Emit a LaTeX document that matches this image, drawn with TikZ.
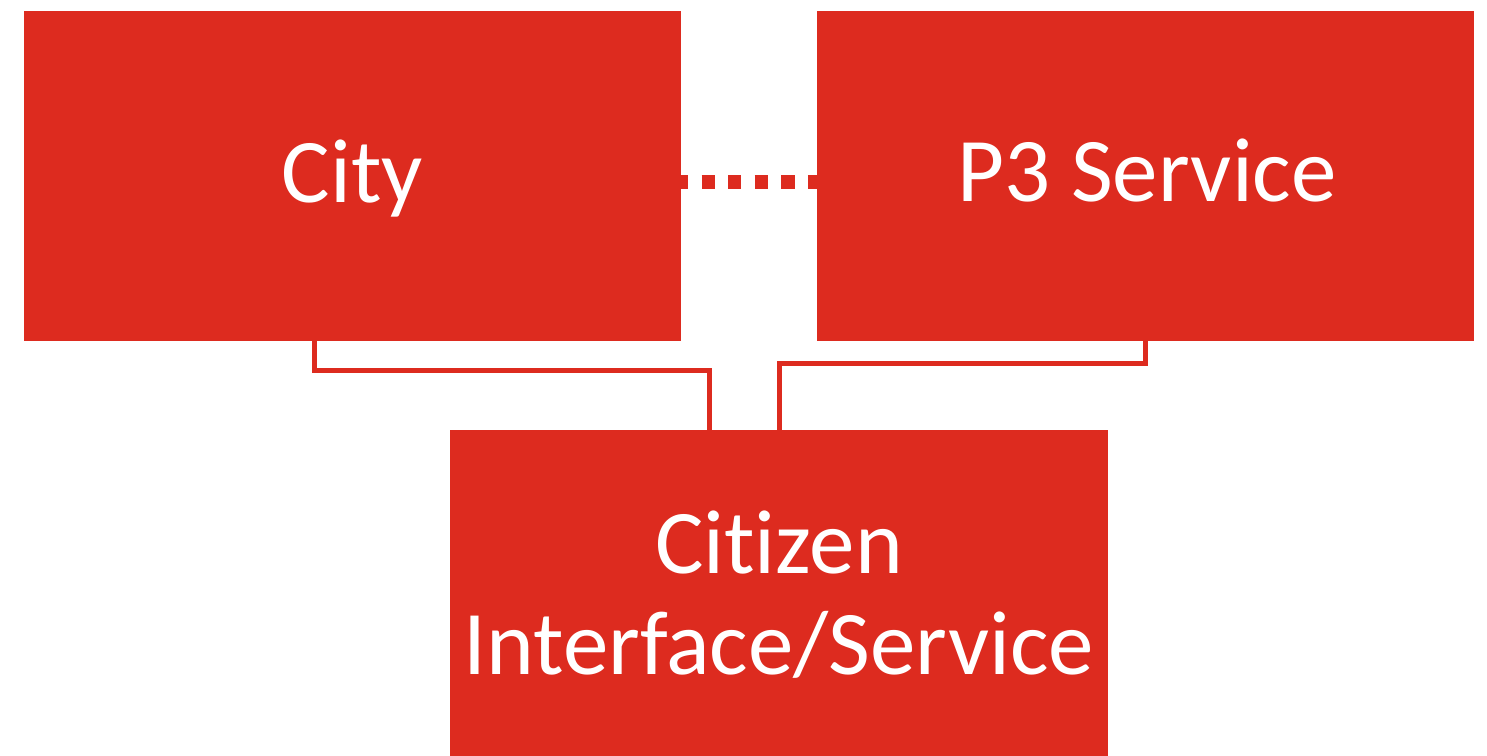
\documentclass[tikz,border=0pt]{standalone}
\usepackage{fontspec}
\setmainfont[Ligatures=NoCommon]{Carlito}
\definecolor{boxred}{RGB}{221,43,31}
\begin{document}
\begin{tikzpicture}[x=1pt,y=-1pt,
  box/.style={fill=boxred, draw=none, inner sep=0pt, minimum width=657pt, minimum height=330pt},
  lbl/.style={text=white, font=\fontsize{91}{101}\selectfont, align=center, inner sep=0pt},
  conn/.style={draw=boxred, line width=5pt, line join=miter},
  dots/.style={draw=boxred, line width=13.3pt, dash pattern=on 13.3pt off 13.3pt, dash phase=6.3pt}]
\useasboundingbox (0,0) rectangle (1487,755);
\clip (0,0) rectangle (1487,755);
\node[box] (city) at (352.5,176) {};
\node[box] (p3) at (1145.5,176) {};
\node[box, minimum width=658pt] (citizen) at (779,595) {};
\draw[dots] ([yshift=-6pt]city.east) -- ([yshift=-6pt]p3.west);
\node[lbl, anchor=base] (citytext) at (352.5,202) {City};
\node[lbl, anchor=base] (p3text) at (1147,201) {P3 Service};
\node[lbl] (citizentext) at (779,595) {Citizen\\Interface/Service};
\draw[conn] ([xshift=-38pt]city.south) -- ++(0,29.5) -| ([xshift=-69.5pt]citizen.north);
\draw[conn] (p3.south) -- ++(0,22) -| (citizen.north);
\end{tikzpicture}
\end{document}
